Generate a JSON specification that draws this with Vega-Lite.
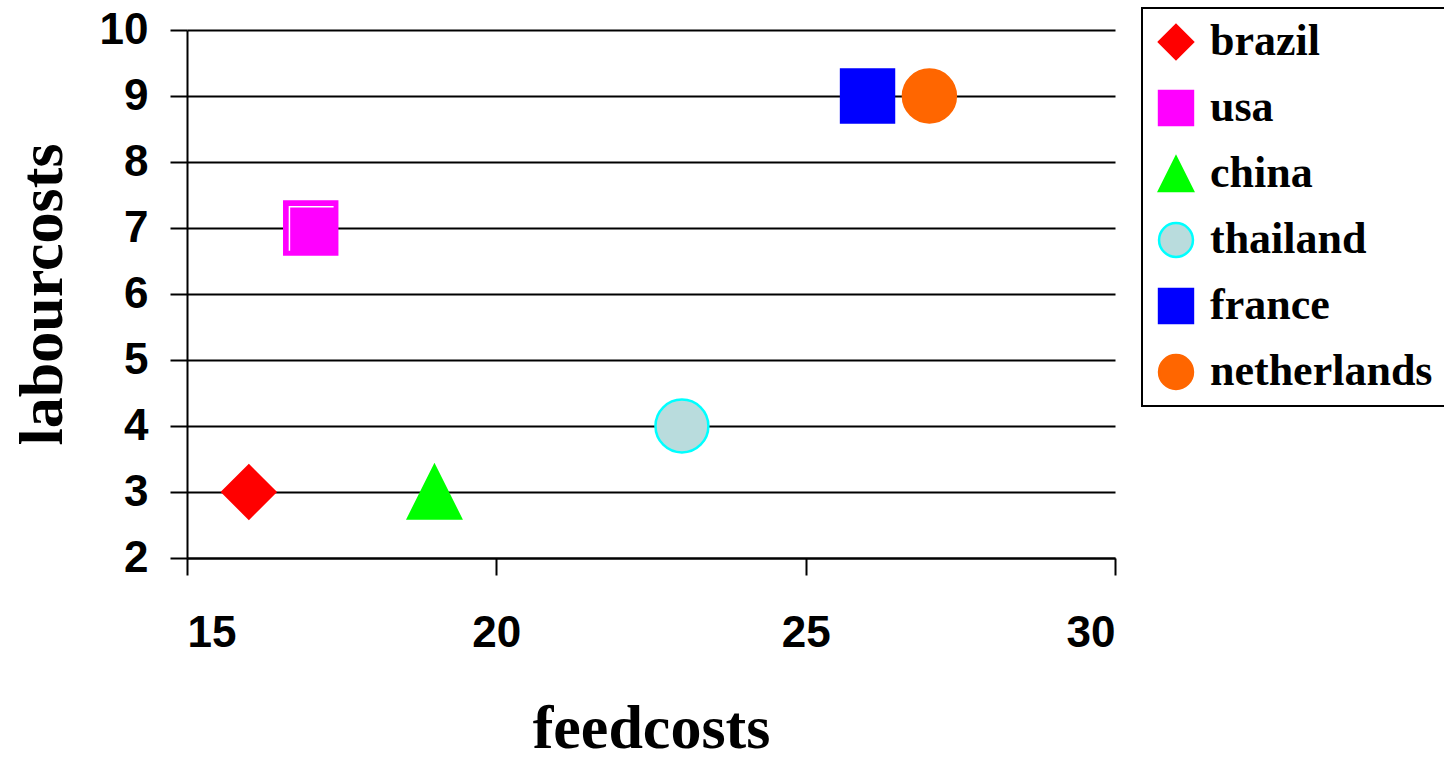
{
  "$schema": "https://vega.github.io/schema/vega-lite/v6.json",
  "autosize": "none",
  "width": 928,
  "height": 528,
  "padding": {"left": 187, "top": 30, "right": 329, "bottom": 202},
  "background": "white",
  "config": {
    "view": {"stroke": null},
    "axis": {
      "domainColor": "black",
      "domainWidth": 2,
      "tickColor": "black",
      "tickWidth": 2,
      "tickSize": 17,
      "format": "d",
      "labelFont": "Liberation Sans",
      "labelFontWeight": "bold",
      "labelFontSize": 44,
      "labelColor": "black",
      "titleFont": "Liberation Serif",
      "titleFontWeight": "bold",
      "titleFontSize": 62,
      "titleColor": "black"
    },
    "legend": {
      "labelFont": "Liberation Serif",
      "labelFontWeight": "bold",
      "labelFontSize": 44,
      "labelColor": "black",
      "labelLimit": 0,
      "symbolSize": 1150,
      "symbolStrokeWidth": 2.5,
      "rowPadding": 22,
      "padding": 12,
      "labelOffset": 12,
      "strokeColor": "black",
      "strokeWidth": 2
    }
  },
  "data": {
    "values": [
      {"country": "brazil", "feedcosts": 16, "labourcosts": 3},
      {"country": "usa", "feedcosts": 17, "labourcosts": 7},
      {"country": "china", "feedcosts": 19, "labourcosts": 3},
      {"country": "thailand", "feedcosts": 23, "labourcosts": 4},
      {"country": "france", "feedcosts": 26, "labourcosts": 9},
      {"country": "netherlands", "feedcosts": 27, "labourcosts": 9}
    ]
  },
  "layer": [
    {
      "mark": {"type": "point", "filled": true, "opacity": 1, "strokeWidth": 2.5, "size": 2800},
      "encoding": {
        "x": {
          "field": "feedcosts",
          "type": "quantitative",
          "title": "feedcosts",
          "scale": {"domain": [15, 30], "nice": false, "zero": false},
          "axis": {
            "values": [15, 20, 25, 30],
            "grid": false,
            "labelPadding": 36,
            "titleBaseline": "alphabetic",
            "titleY": 189,
            "titleX": 464
          }
        },
        "y": {
          "field": "labourcosts",
          "type": "quantitative",
          "title": "labourcosts",
          "scale": {"domain": [2, 10], "nice": false, "zero": false},
          "axis": {
            "values": [2, 3, 4, 5, 6, 7, 8, 9, 10],
            "grid": true,
            "gridColor": "black",
            "gridWidth": 2,
            "gridOpacity": 1,
            "labelPadding": 22,
            "titleAngle": -90,
            "titleBaseline": "alphabetic",
            "titleAlign": "center",
            "titleX": -126,
            "titleY": 264
          }
        },
        "fill": {
          "field": "country",
          "type": "nominal",
          "title": null,
          "scale": {
            "domain": ["brazil", "usa", "china", "thailand", "france", "netherlands"],
            "range": ["#ff0000", "#ff00ff", "#00ff00", "#b9dcdd", "#0000ff", "#ff6600"]
          },
          "legend": {
            "orient": "none",
            "legendX": 955,
            "legendY": -22
          }
        },
        "stroke": {
          "field": "country",
          "type": "nominal",
          "title": null,
          "scale": {
            "domain": ["brazil", "usa", "china", "thailand", "france", "netherlands"],
            "range": ["#ff0000", "#ff00ff", "#00ff00", "#00ffff", "#0000ff", "#ff6600"]
          }
        },
        "shape": {
          "field": "country",
          "type": "nominal",
          "title": null,
          "scale": {
            "domain": ["brazil", "usa", "china", "thailand", "france", "netherlands"],
            "range": ["diamond", "square", "M0,-1L1,1L-1,1Z", "circle", "square", "circle"]
          }
        }
      }
    },
    {
      "transform": [{"filter": "datum.country === 'usa'"}],
      "mark": {"type": "point", "filled": false, "shape": "M-0.82,0.88L-0.82,-0.82L0.88,-0.82", "stroke": "white", "strokeWidth": 1.5, "size": 2700, "opacity": 1},
      "encoding": {
        "x": {"field": "feedcosts", "type": "quantitative"},
        "y": {"field": "labourcosts", "type": "quantitative"}
      }
    }
  ]
}
